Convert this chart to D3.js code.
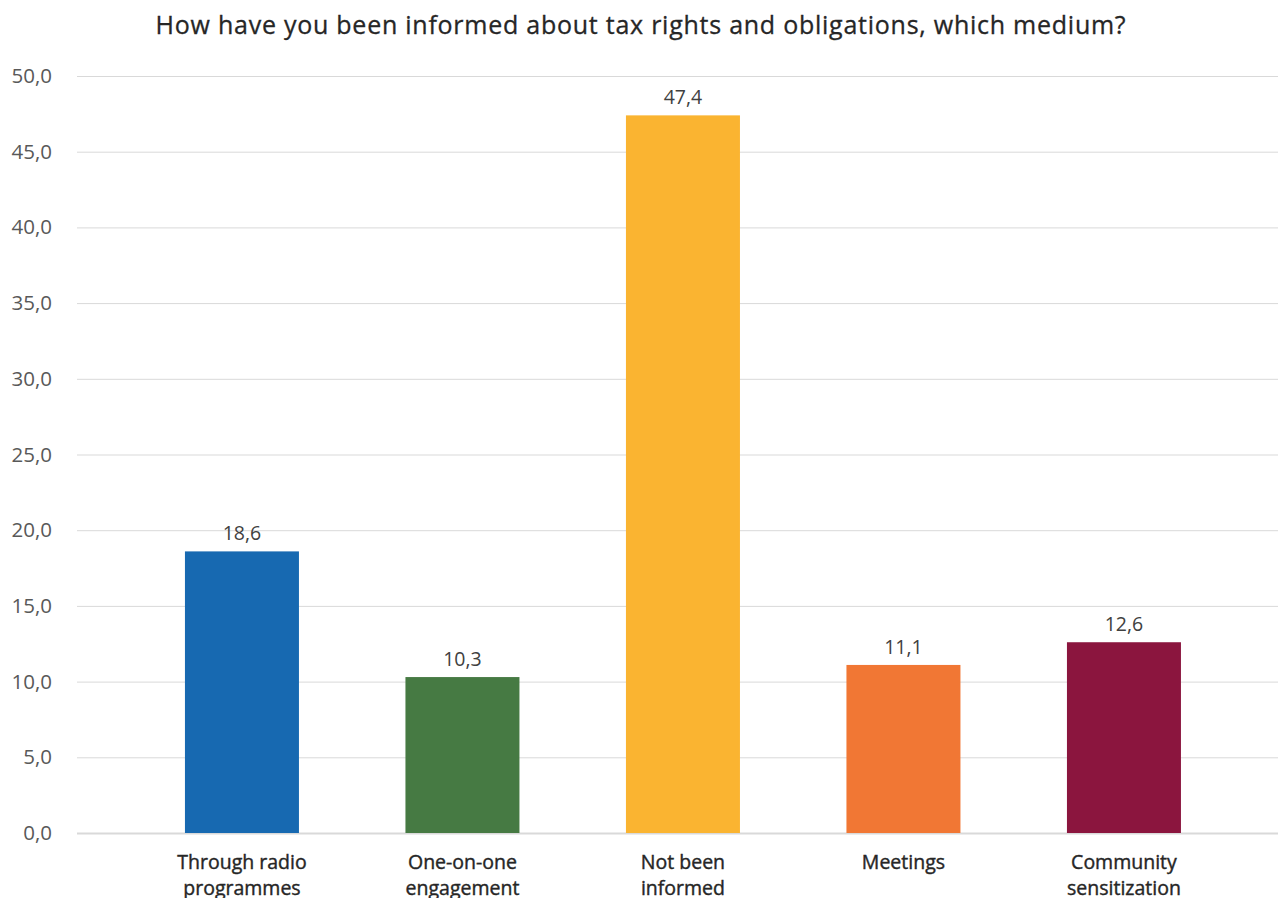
<!DOCTYPE html>
<html>
<head>
<meta charset="utf-8">
<script src="https://cdn.jsdelivr.net/npm/d3@7"></script>
<style>
  html, body { margin: 0; padding: 0; background: #fff; }
  svg { display: block; font-family: "Open Sans", Lato, sans-serif; }
</style>
</head>
<body>
<svg id="chart" width="1278" height="898"></svg>
<script>
// Survey answers: share of respondents (%) by information medium
const categories = [
  ["Through radio", "programmes"],
  ["One-on-one", "engagement"],
  ["Not been", "informed"],
  ["Meetings"],
  ["Community", "sensitization"]
];
const values = [18.6, 10.3, 47.4, 11.1, 12.6];
const colors = ["#1769b1", "#467a43", "#fab431", "#f17734", "#8b153e"];
const yTicks = [0, 5, 10, 15, 20, 25, 30, 35, 40, 45, 50];
const title = "How have you been informed about tax rights and obligations, which medium?";

const svg = d3.select("#chart");
const fmt = v => d3.format(".1f")(v).replace(".", ",");

const gridLeft = 77, gridRight = 1278;
const y = d3.scaleLinear().domain([0, 50]).range([833, 76]);
const x = d3.scaleBand()
  .domain(d3.range(values.length))
  .range([131.7, 1234.2])
  .paddingInner(0.483)
  .paddingOuter(0.2415);

// title
svg.append("text")
  .attr("x", 641).attr("y", 34)
  .attr("text-anchor", "middle")
  .attr("font-size", 25)
  .attr("letter-spacing", 0.75)
  .attr("fill", "#262626")
  .attr("stroke", "#262626")
  .attr("stroke-width", 0.3)
  .text(title);

// horizontal gridlines + tick labels
const yAxis = d3.axisLeft(y).tickValues(yTicks).tickSize(-(gridRight - gridLeft)).tickFormat(fmt).tickPadding(25);
const gAxis = svg.append("g").attr("transform", `translate(${gridLeft},0)`).call(yAxis);
gAxis.select(".domain").remove();
gAxis.selectAll(".tick line").attr("stroke", "#d9d9d9").attr("stroke-width", 1);
gAxis.selectAll(".tick").filter(d => d === 0).select("line").attr("stroke-width", 2);
gAxis.selectAll(".tick text")
  .attr("font-size", 20.5).attr("fill", "#595959")
  .attr("font-family", "'Open Sans', sans-serif");

// bars
svg.append("g").selectAll("rect")
  .data(values)
  .join("rect")
  .attr("x", (d, i) => x(i))
  .attr("width", x.bandwidth())
  .attr("y", d => y(d))
  .attr("height", d => y(0) - y(d))
  .attr("fill", (d, i) => colors[i]);

// value labels
svg.append("g").selectAll("text")
  .data(values)
  .join("text")
  .attr("x", (d, i) => x(i) + x.bandwidth() / 2)
  .attr("y", d => y(d) - 11)
  .attr("text-anchor", "middle")
  .attr("font-size", 19.5)
  .attr("fill", "#404040")
  .text(fmt);

// category labels
const cat = svg.append("g").selectAll("text")
  .data(categories)
  .join("text")
  .attr("text-anchor", "middle")
  .attr("font-size", 19.5)
  .attr("fill", "#262626")
  .attr("stroke", "#262626")
  .attr("stroke-width", 0.4)
  .attr("transform", (d, i) => `translate(${x(i) + x.bandwidth() / 2},869)`);
cat.selectAll("tspan")
  .data(d => d)
  .join("tspan")
  .attr("x", 0)
  .attr("dy", (d, j) => j === 0 ? 0 : 26)
  .text(d => d);
</script>
</body>
</html>
